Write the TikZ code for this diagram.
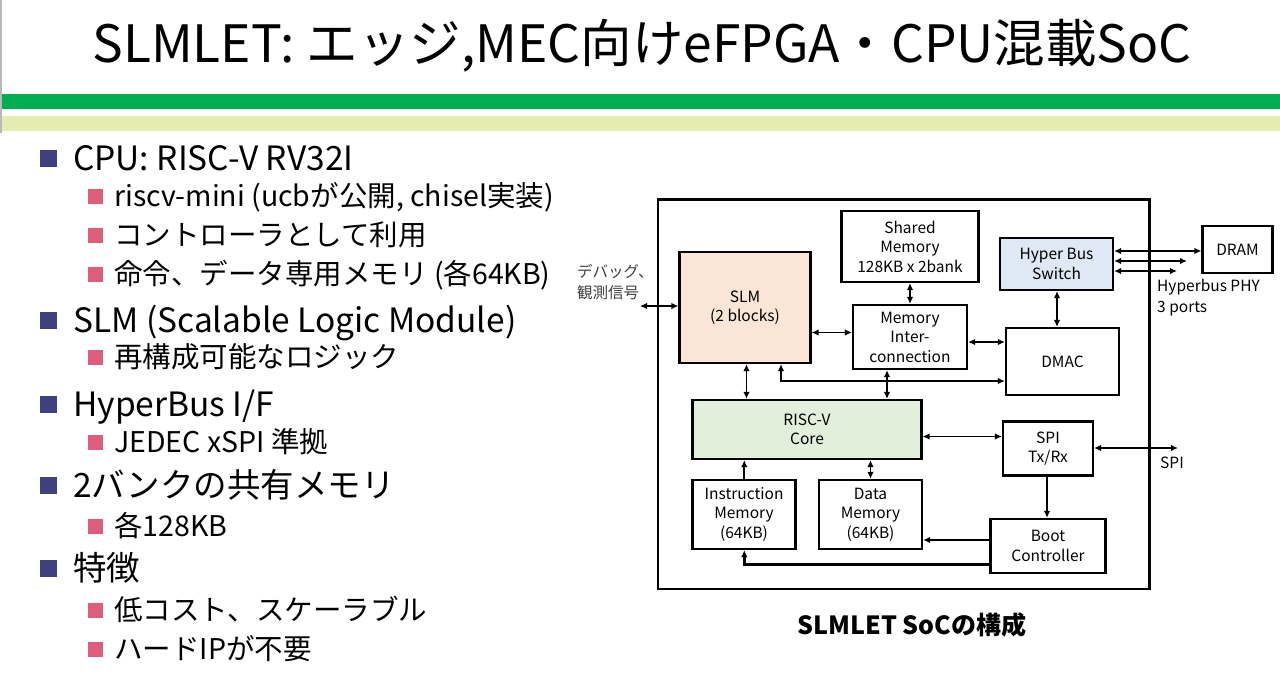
\documentclass[tikz,border=0pt]{standalone}
\usepackage{fontspec}
\setmainfont{Noto Sans CJK JP}
\usetikzlibrary{
	arrows.meta,
	positioning
}
\definecolor{colbarone}{RGB}{0,173,79}
\definecolor{colbartwo}{RGB}{229,236,178}
\definecolor{colbulone}{RGB}{64,64,128}
\definecolor{colbultwo}{RGB}{221,94,124}
\definecolor{colslm}{RGB}{251,229,214}
\definecolor{colhbs}{RGB}{222,233,245}
\definecolor{colcore}{RGB}{226,239,218}
\tikzset{
	>={Latex[length=7pt,width=6.5pt]},
	blk/.style={draw, line width=2.2pt, align=center, inner sep=2pt, font=\fontsize{15.5}{19.5}\selectfont},
	biconn/.style={<->, line width=1.8pt},
	uniconn/.style={->, line width=1.8pt},
	itemone/.style={anchor=base west, inner sep=0pt, font=\fontsize{33.5}{40}\selectfont},
	itemtwo/.style={anchor=base west, inner sep=0pt, font=\fontsize{28.5}{34}\selectfont},
	sidetext/.style={align=left, inner sep=0pt, font=\fontsize{15.5}{20.5}\selectfont}
}
\begin{document}
\begin{tikzpicture}[x=1pt, y=-1pt]
	\useasboundingbox (0,0) rectangle (1280,675);
	% title and bars
	\node[anchor=base, inner sep=0pt] (title) at (642,62) {\fontsize{51.5}{60}\selectfont SLMLET: エッジ,MEC向けeFPGA・CPU混載SoC};
	\fill[colbarone] (2,93.5) rectangle (1280,109);
	\fill[colbartwo] (2,115.5) rectangle (1280,131);
	\draw[gray!55, line width=1.5pt] (0.75,0) -- (0.75,133);
	% bullet list
	\foreach \nm/\y/\txt in {cpu/158/{CPU: RISC-V RV32I}, slmi/320/{SLM (Scalable Logic Module)}, hbi/404/{HyperBus I/F}, bank/485/{2バンクの共有メモリ}, feat/568/{特徴}} {
		\fill[colbulone] (40,\y-8.5) rectangle ++(17,17);
		\node[itemone] (\nm) at (73,\y+12.5) {\txt};
	}
	\foreach \nm/\y/\txt in {riscv/196/{riscv-mini (ucbが公開, chisel実装)}, ctrl/235/{コントローラとして利用}, imdm/274/{命令、データ専用メモリ (各64KB)}, reconf/357/{再構成可能なロジック}, jedec/442/{JEDEC xSPI 準拠}, each/526/{各128KB}, lowcost/610/{低コスト、スケーラブル}, hardip/649/{ハードIPが不要}} {
		\fill[colbultwo] (88,\y-7.5) rectangle ++(15,15);
		\node[itemtwo] (\nm) at (114,\y+10.7) {\txt};
	}
	% SoC block diagram
	\draw[line width=2.5pt] (658,199.5) rectangle (1149.5,589);
	\node[blk, minimum width=137, minimum height=71] (shmem) at (910,246.5) {Shared\\Memory\\128KB x 2bank};
	\node[blk, fill=colhbs, minimum width=113, minimum height=52] (hbsw) at (1056.5,264) {Hyper Bus\\Switch};
	\node[blk, minimum width=70, minimum height=47] (dram) at (1237.5,249.5) {DRAM};
	\node[blk, fill=colslm, minimum width=131, minimum height=111] (slm) at (745,307.5) {SLM\\(2 blocks)};
	\node[blk, minimum width=114, minimum height=64] (memic) at (910,337) {Memory\\Inter-\\connection};
	\node[blk, minimum width=113, minimum height=67] (dmac) at (1062.5,361.5) {DMAC};
	\node[blk, fill=colcore, minimum width=229, minimum height=59] (core) at (807,429.5) {RISC-V\\Core};
	\node[blk, minimum width=90, minimum height=54] (spi) at (1048,448.5) {SPI\\Tx/Rx};
	\node[blk, minimum width=103, minimum height=69] (imem) at (744,514.5) {Instruction\\Memory\\(64KB)};
	\node[blk, minimum width=103, minimum height=69] (dmem) at (870.5,514.5) {Data\\Memory\\(64KB)};
	\node[blk, minimum width=115, minimum height=54] (boot) at (1048,546) {Boot\\Controller};
	% outside labels
	\node[sidetext, anchor=west, text=black!75] (dbg) at (577,282) {デバッグ、\\観測信号};
	\node[sidetext, anchor=north west] (phy) at (1157,279) {Hyperbus PHY\\3 ports};
	\node[sidetext, anchor=center] (spil) at (1172,463) {SPI};
	\coordinate (dbgend) at (640,306);
	\coordinate (phytwo) at (1187,261);
	\coordinate (phythree) at (1177,271);
	\coordinate (spiend) at (1178,448);
	% connectors
	\draw[biconn] (dbgend) -- (slm.west |- dbgend);
	\draw[biconn] (hbsw.east |- 0,251) -- (dram.west |- 0,251);
	\draw[biconn] (hbsw.east |- phytwo) -- (phytwo);
	\draw[biconn] (hbsw.east |- phythree) -- (phythree);
	\draw[biconn] (slm.east |- 0,332.5) -- (memic.west |- 0,332.5);
	\draw[biconn] (shmem.south) -- (memic.north);
	\draw[biconn] (memic.east |- 0,342) -- (dmac.west |- 0,342);
	\draw[biconn] (hbsw.south -| 1057,0) -- (dmac.north -| 1057,0);
	\draw[biconn] (slm.south -| 746.5,0) -- (core.north -| 746.5,0);
	\draw[biconn] (slm.south -| 781,0) -- (781,381) -- (dmac.west |- 0,381);
	\draw[biconn] (memic.south -| 887,0) -- (core.north -| 887,0);
	\draw[biconn] (core.east |- 0,436.5) -- (spi.west |- 0,436.5);
	\draw[biconn] (spi.east |- spiend) -- (spiend);
	\draw[uniconn] (spi.south -| 1047,0) -- (boot.north -| 1047,0);
	\draw[uniconn] (boot.west |- 0,540) -- (dmem.east |- 0,540);
	\draw[uniconn, line width=3pt] (boot.west |- 0,564) -- (744.3,564) -- (imem.south -| 744.3,0);
	\draw[uniconn] (imem.north -| 744.3,0) -- (core.south -| 744.3,0);
	\draw[biconn] (dmem.north -| 870.5,0) -- (core.south -| 870.5,0);
	% caption
	\node[font=\fontsize{25}{30}\selectfont\bfseries] (caption) at (912,625) {SLMLET SoCの構成};
\end{tikzpicture}
\end{document}
